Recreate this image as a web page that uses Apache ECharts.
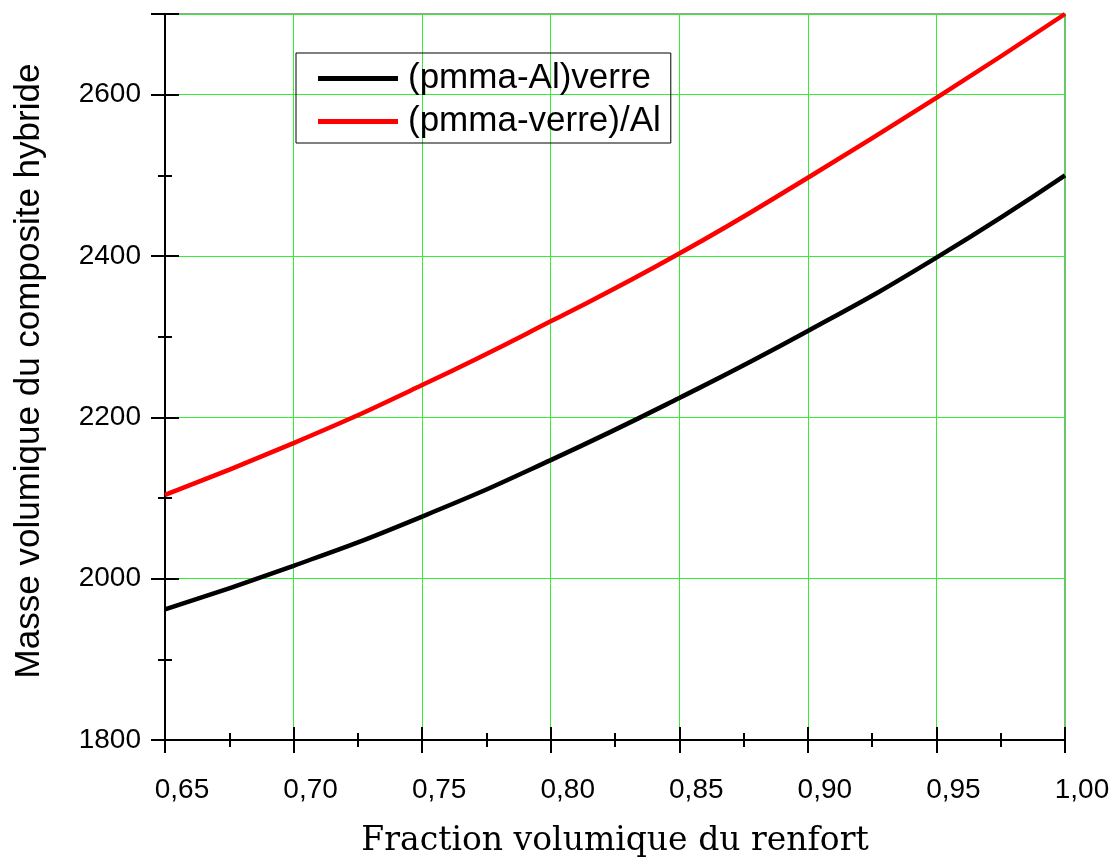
<!DOCTYPE html>
<html>
<head>
<meta charset="utf-8">
<script src="https://cdn.jsdelivr.net/npm/echarts@6/dist/echarts.min.js"></script>
<style>html,body{margin:0;padding:0;background:#fff}#c{width:1118px;height:862px}</style>
</head>
<body>
<div id="c"></div>
<script>
const fractions = [0.65, 0.70, 0.75, 0.80, 0.85, 0.90, 0.95, 1.00];
const pmmaAlVerre = [1962, 2016, 2077, 2147, 2224, 2307, 2398, 2500];
const pmmaVerreAl = [2104, 2168, 2240, 2319, 2403, 2497, 2596, 2700];
const seriesNames = ['(pmma-Al)verre', '(pmma-verre)/Al'];
const xTitle = 'Fraction volumique du renfort';
const yTitle = 'Masse volumique du composite hybride';

const chart = echarts.init(document.getElementById('c'), null, {renderer: 'canvas'});
const fmtX = v => v.toFixed(2).replace('.', ',');
const baseX = {
  type: 'value', min: 0.65, max: 1.0, interval: 0.05, position: 'bottom',
  axisLine: {show: true, lineStyle: {color: '#000', width: 2}},
};
const baseY = {
  type: 'value', min: 1800, max: 2700, interval: 200, position: 'left',
  axisLine: {show: true, lineStyle: {color: '#000', width: 2}},
};
chart.setOption({
  animation: false,
  backgroundColor: '#fff',
  grid: {left: 165, right: 53, top: 14, bottom: 122, outerBoundsMode: 'none', containLabel: false,
         show: true, borderColor: '#808080', borderWidth: 1.5, backgroundColor: 'transparent'},
  legend: {
    orient: 'vertical', left: 296, top: 53,
    padding: [8, 10, 4, 22],
    borderColor: '#000', borderWidth: 1,
    itemWidth: 80, itemHeight: 5, itemGap: 8,
    icon: 'rect',
    textStyle: {fontFamily: 'Liberation Sans', fontSize: 35, color: '#000', padding: [0, 0, 0, 5]},
    data: seriesNames
  },
  xAxis: [
    Object.assign({}, baseX, {
      name: xTitle, nameLocation: 'middle', nameGap: 85,
      nameTextStyle: {fontFamily: 'DejaVu Serif', fontSize: 33, color: '#000'},
      axisTick: {show: true, inside: false, length: 13, lineStyle: {color: '#000', width: 2}},
      minorTick: {show: true, splitNumber: 2, length: 7, lineStyle: {color: '#000', width: 2}},
      splitLine: {show: true, lineStyle: {color: '#33ee33', width: 1}},
      axisLabel: {margin: 36, fontFamily: 'Liberation Sans', fontSize: 28, color: '#000', formatter: fmtX,
        padding: [0, 0, 0, 34]}
    }),
    Object.assign({}, baseX, {
      axisTick: {show: true, inside: true, length: 13, lineStyle: {color: '#000', width: 2}},
      minorTick: {show: true, splitNumber: 2, length: 7, lineStyle: {color: '#000', width: 2}},
      splitLine: {show: false}, axisLabel: {show: false}
    })
  ],
  yAxis: [
    Object.assign({}, baseY, {
      name: yTitle, nameLocation: 'middle', nameGap: 118, nameRotate: 90,
      nameTextStyle: {fontFamily: 'Liberation Sans', fontSize: 35, color: '#000', padding: [0, 0, 0, 12]},
      axisTick: {show: true, inside: false, length: 14, lineStyle: {color: '#000', width: 2}},
      minorTick: {show: true, splitNumber: 2, length: 7, lineStyle: {color: '#000', width: 2}},
      splitLine: {show: true, lineStyle: {color: '#33ee33', width: 1}},
      axisLabel: {margin: 24, fontFamily: 'Liberation Sans', fontSize: 28, color: '#000',
        formatter: v => (v === 2700 ? '' : String(v))}
    }),
    Object.assign({}, baseY, {
      axisTick: {show: true, inside: true, length: 14, lineStyle: {color: '#000', width: 2}},
      minorTick: {show: true, splitNumber: 2, length: 7, lineStyle: {color: '#000', width: 2}},
      splitLine: {show: false}, axisLabel: {show: false}
    })
  ],
  series: [
    {name: seriesNames[0], type: 'line', smooth: true, showSymbol: false, symbol: 'none',
     lineStyle: {color: '#000', width: 4.5}, itemStyle: {color: '#000'},
     data: fractions.map((f, i) => [f, pmmaAlVerre[i]])},
    {name: seriesNames[1], type: 'line', smooth: true, showSymbol: false, symbol: 'none',
     lineStyle: {color: '#ff0000', width: 4.5}, itemStyle: {color: '#ff0000'},
     data: fractions.map((f, i) => [f, pmmaVerreAl[i]])}
  ]
});
</script>
</body>
</html>
